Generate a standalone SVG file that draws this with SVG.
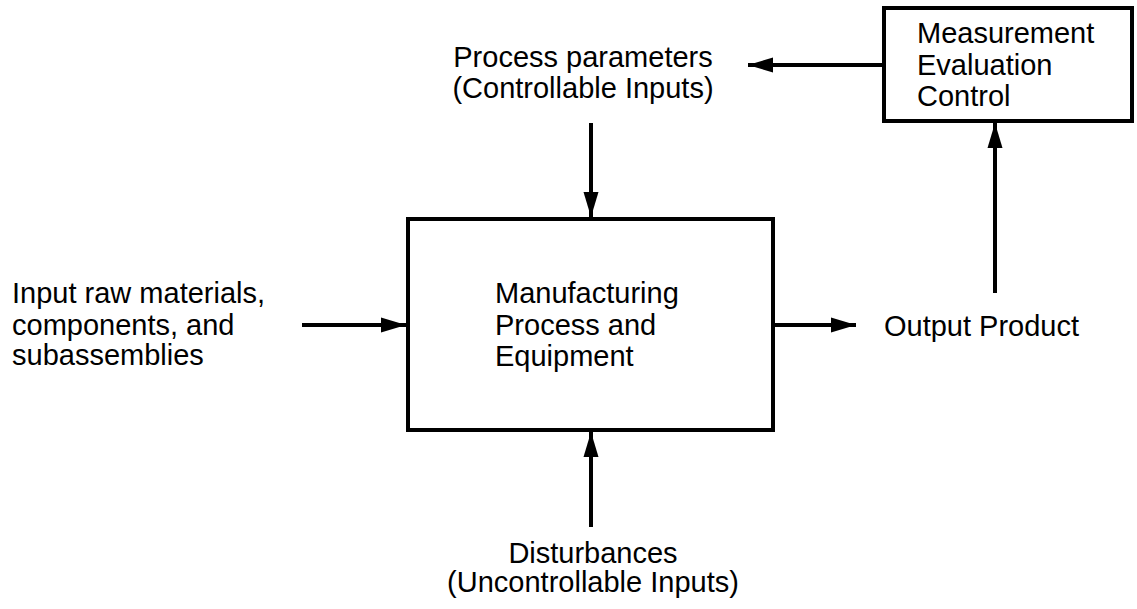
<svg xmlns="http://www.w3.org/2000/svg" width="1137" height="609" viewBox="0 0 1137 609">
  <style>
    .box { fill: #fff; stroke: #000; stroke-width: 4; }
    .wire { fill: none; stroke: #000; stroke-width: 4; }
    text { font-family: "Liberation Sans", Arial, sans-serif; font-size: 29px; fill: #000; }
    .mid { text-anchor: middle; }
  </style>
  <defs>
    <marker id="head" markerUnits="userSpaceOnUse" markerWidth="26" markerHeight="16" refX="25" refY="8" orient="auto">
      <polygon points="0,0.5 25,8 0,15.5" fill="#000"/>
    </marker>
  </defs>

  <rect width="1137" height="609" fill="#fff"/>

  <g id="connectors">
    <line class="wire" x1="591" y1="123" x2="591" y2="217" marker-end="url(#head)"/>
    <line class="wire" x1="591" y1="527" x2="591" y2="432" marker-end="url(#head)"/>
    <line class="wire" x1="302" y1="325" x2="406" y2="325" marker-end="url(#head)"/>
    <line class="wire" x1="775" y1="325" x2="856" y2="325" marker-end="url(#head)"/>
    <line class="wire" x1="995" y1="293" x2="995" y2="123" marker-end="url(#head)"/>
    <line class="wire" x1="882" y1="65" x2="748" y2="65" marker-end="url(#head)"/>
  </g>

  <g id="process">
    <rect class="box" x="408" y="219" width="365" height="211"/>
    <text x="495" y="303">Manufacturing</text>
    <text x="495" y="335">Process and</text>
    <text x="495" y="366">Equipment</text>
  </g>

  <g id="measurement">
    <rect class="box" x="884" y="8" width="248" height="113"/>
    <text x="917" y="43">Measurement</text>
    <text x="917" y="75">Evaluation</text>
    <text x="917" y="106">Control</text>
  </g>

  <g id="parameters">
    <text class="mid" x="583" y="67">Process parameters</text>
    <text class="mid" x="583" y="98">(Controllable Inputs)</text>
  </g>

  <g id="raw-inputs">
    <text x="12" y="303">Input raw materials,</text>
    <text x="12" y="335">components, and</text>
    <text x="12" y="365">subassemblies</text>
  </g>

  <g id="output">
    <text x="884" y="336">Output Product</text>
  </g>

  <g id="disturbances">
    <text class="mid" x="593" y="563">Disturbances</text>
    <text class="mid" x="593" y="592">(Uncontrollable Inputs)</text>
  </g>
</svg>
